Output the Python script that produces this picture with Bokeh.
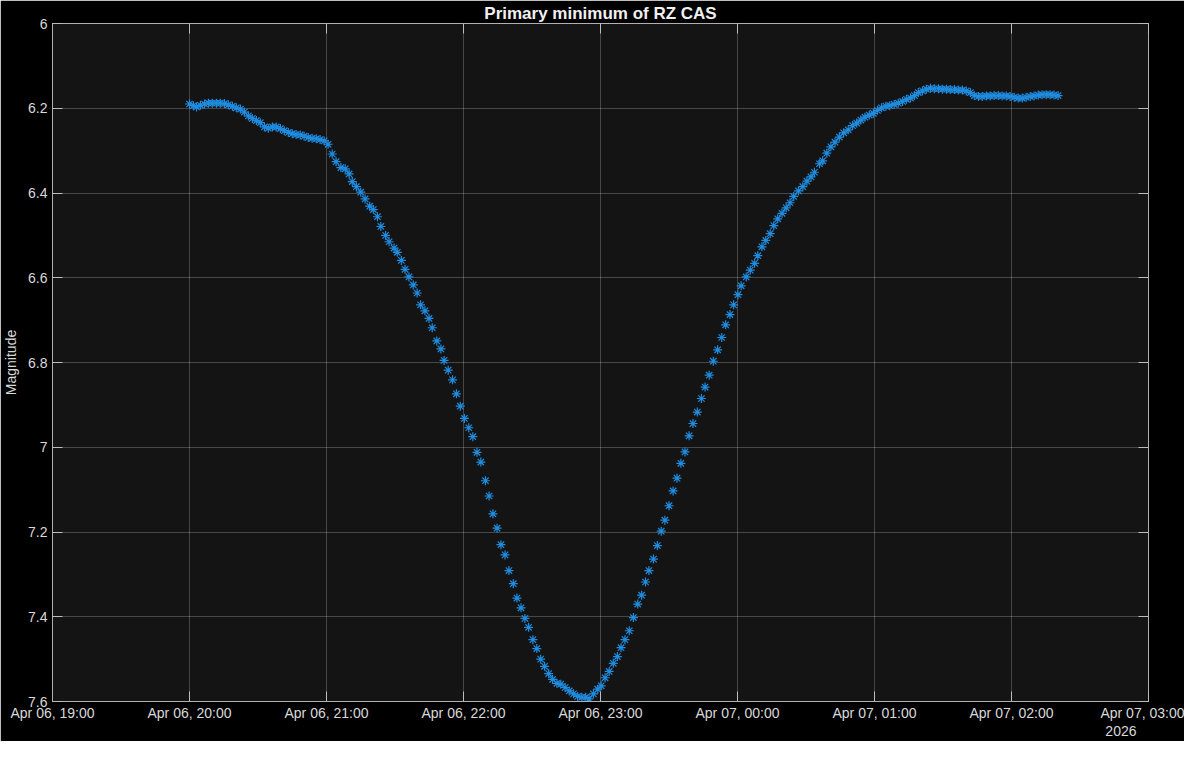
from datetime import datetime, timedelta
from bokeh.plotting import figure
from bokeh.models import (Range1d, FixedTicker, DatetimeTickFormatter, CustomJSTickFormatter,
                          LinearAxis, DatetimeAxis, Title)
from bokeh.embed import file_html
from bokeh.resources import INLINE

TITLE = "Primary minimum of RZ CAS"
Y_LABEL = "Magnitude"
YEAR_LABEL = "2026"
START = datetime(2026, 4, 6, 20, 0)

# minutes after 20:00 (Apr 06)
minutes = [
    0.0, 1.7, 3.1, 4.8, 6.6, 8.3, 10.0, 11.8, 13.5, 15.3,
    17.0, 18.8, 20.5, 22.3, 24.0, 25.8, 27.5, 29.3, 31.0, 32.8,
    34.5, 36.3, 38.0, 39.8, 41.5, 43.3, 45.0, 46.7, 48.5, 50.2,
    52.0, 53.7, 55.5, 57.2, 59.0, 60.7, 62.5, 64.2, 66.3, 68.2,
    69.9, 71.3, 73.1, 75.0, 76.9, 78.9, 80.5, 82.3, 83.8, 85.9,
    87.4, 89.6, 91.0, 92.8, 94.4, 96.1, 98.0, 99.7, 101.2, 103.1,
    104.9, 106.3, 108.3, 110.1, 111.5, 113.3, 115.2, 116.9, 118.6, 120.4,
    122.3, 124.1, 125.9, 127.6, 129.6, 131.2, 132.9, 134.7, 136.4, 138.2,
    139.9, 141.8, 143.4, 145.2, 146.9, 148.5, 150.4, 152.1, 153.8, 155.5,
    157.3, 159.0, 160.9, 162.6, 164.5, 166.3, 168.2, 170.0, 171.8, 173.5,
    175.0, 176.9, 178.8, 180.3, 182.0, 183.8, 185.6, 187.4, 189.0, 190.7,
    192.6, 194.4, 196.3, 198.0, 199.7, 201.2, 203.2, 204.9, 206.6, 208.2,
    210.0, 211.8, 213.5, 215.2, 217.0, 218.8, 220.5, 222.4, 224.2, 225.8,
    227.6, 229.4, 231.3, 233.1, 234.8, 236.7, 238.3, 240.2, 241.6, 243.8,
    245.6, 247.5, 248.9, 250.7, 252.4, 254.3, 255.9, 257.6, 259.5, 261.3,
    263.0, 264.6, 266.7, 268.6, 270.4, 272.2, 273.7, 275.9, 277.3, 279.1,
    280.9, 282.7, 284.6, 286.5, 288.5, 290.4, 292.2, 294.0, 295.8, 297.7,
    299.5, 301.3, 303.1, 305.0, 306.7, 308.6, 310.4, 312.3, 314.0, 315.8,
    317.5, 319.2, 321.0, 322.7, 324.5, 326.2, 328.0, 329.7, 331.5, 333.2,
    335.0, 336.7, 338.5, 340.2, 342.0, 343.7, 345.5, 347.2, 349.0, 350.7,
    352.4, 354.2, 355.9, 357.7, 359.4, 361.2, 362.9, 364.7, 366.4, 368.2,
    369.9, 371.7, 373.4, 375.2, 376.9, 378.6, 380.4,
]

magnitude = [
    6.190, 6.194, 6.197, 6.193, 6.190, 6.188, 6.188, 6.188, 6.188, 6.189,
    6.192, 6.195, 6.199, 6.202, 6.209, 6.218, 6.224, 6.229, 6.234, 6.244,
    6.247, 6.244, 6.244, 6.248, 6.253, 6.257, 6.260, 6.262, 6.263, 6.266,
    6.269, 6.271, 6.272, 6.274, 6.277, 6.285, 6.308, 6.326, 6.340, 6.343,
    6.355, 6.373, 6.385, 6.398, 6.414, 6.431, 6.439, 6.456, 6.479, 6.500,
    6.515, 6.530, 6.540, 6.559, 6.580, 6.598, 6.617, 6.636, 6.664, 6.678,
    6.696, 6.718, 6.749, 6.768, 6.795, 6.818, 6.841, 6.874, 6.903, 6.932,
    6.954, 6.975, 7.012, 7.035, 7.079, 7.115, 7.157, 7.191, 7.230, 7.254,
    7.291, 7.322, 7.356, 7.379, 7.404, 7.425, 7.454, 7.475, 7.500, 7.517,
    7.534, 7.548, 7.557, 7.559, 7.567, 7.575, 7.582, 7.588, 7.590, 7.590,
    7.594, 7.582, 7.571, 7.563, 7.544, 7.529, 7.510, 7.494, 7.473, 7.454,
    7.433, 7.402, 7.370, 7.349, 7.318, 7.291, 7.264, 7.232, 7.198, 7.172,
    7.138, 7.103, 7.073, 7.038, 7.011, 6.973, 6.944, 6.917, 6.885, 6.858,
    6.830, 6.797, 6.770, 6.741, 6.711, 6.687, 6.664, 6.640, 6.619, 6.598,
    6.582, 6.566, 6.548, 6.527, 6.512, 6.496, 6.477, 6.461, 6.448, 6.435,
    6.423, 6.408, 6.395, 6.385, 6.372, 6.362, 6.351, 6.331, 6.324, 6.306,
    6.291, 6.280, 6.268, 6.258, 6.251, 6.241, 6.235, 6.228, 6.221, 6.216,
    6.212, 6.205, 6.199, 6.195, 6.194, 6.191, 6.188, 6.184, 6.179, 6.176,
    6.170, 6.163, 6.159, 6.155, 6.153, 6.154, 6.154, 6.155, 6.155, 6.156,
    6.156, 6.157, 6.157, 6.159, 6.163, 6.170, 6.172, 6.172, 6.171, 6.171,
    6.170, 6.170, 6.171, 6.171, 6.172, 6.174, 6.176, 6.176, 6.174, 6.172,
    6.171, 6.169, 6.168, 6.168, 6.168, 6.169, 6.170,
]

y_ticks = [6.0, 6.2, 6.4, 6.6, 6.8, 7.0, 7.2, 7.4, 7.6]
x_tick_hours = [19, 20, 21, 22, 23, 24, 25, 26, 27]  # hours after Apr 06 00:00

times = [START + timedelta(minutes=m) for m in minutes]
EPOCH = datetime(1970, 1, 1)
x_tick_dts = [datetime(2026, 4, 6) + timedelta(hours=h) for h in x_tick_hours]
x_ticks_ms = [(d - EPOCH).total_seconds() * 1000.0 for d in x_tick_dts]

FONT = "Liberation Sans"
LABEL_COL = "#d9d9d9"
TICK_COL = "#bdbdbd"
FRAME_BG = "#141414"

p = figure(width=1184, height=741, output_backend="svg", toolbar_location=None,
           x_axis_type="datetime",
           x_range=Range1d(x_tick_dts[0], x_tick_dts[-1]),
           y_range=Range1d(7.6, 6.0),
           min_border_left=0, min_border_right=36, min_border_top=0, min_border_bottom=40)

p.background_fill_color = FRAME_BG
p.border_fill_color = "#000000"
p.outline_line_color = "#b0b0b0"
p.outline_line_width = 1

p.title.text = TITLE
p.title.align = "center"
p.title.text_color = "#f0f0f0"
p.title.text_font = FONT
p.title.text_font_size = "17px"
p.title.text_font_style = "bold"
p.title.standoff = 2

p.scatter(times, magnitude, marker="asterisk", size=9, line_color="#1f8ce0",
          line_width=1.2)

xt = FixedTicker(ticks=x_ticks_ms)
yt = FixedTicker(ticks=y_ticks)
fmt = "%b %d, %H:%M"
xfmt = DatetimeTickFormatter(hours=fmt, hourmin=fmt, minutes=fmt, minsec=fmt,
                             days=fmt, seconds=fmt, milliseconds=fmt,
                             microseconds=fmt, months=fmt, years=fmt)
yfmt = CustomJSTickFormatter(code="return (Math.round(tick*10)/10).toString();")

for ax in p.xaxis:
    ax.ticker = xt
    ax.formatter = xfmt
for ax in p.yaxis:
    ax.ticker = yt
    ax.formatter = yfmt
    ax.axis_label = Y_LABEL
    ax.axis_label_standoff = 6
    ax.axis_label_text_font = FONT
    ax.axis_label_text_font_size = "14px"
    ax.axis_label_text_font_style = "normal"
    ax.axis_label_text_color = LABEL_COL

for ax in p.xaxis + p.yaxis:
    ax.axis_line_color = "#b0b0b0"
    ax.major_tick_in = 10
    ax.major_tick_out = 0
    ax.major_tick_line_color = TICK_COL
    ax.minor_tick_line_color = None
    ax.major_label_text_font = FONT
    ax.major_label_text_font_size = "14px"
    ax.major_label_text_color = LABEL_COL
    ax.major_label_standoff = 5
for ax in p.xaxis:
    ax.major_label_standoff = 3

# mirror ticks on top and right (no labels)
top_ax = DatetimeAxis(ticker=xt, formatter=xfmt)
right_ax = LinearAxis(ticker=yt, formatter=yfmt)
for ax in (top_ax, right_ax):
    ax.axis_line_color = None
    ax.major_tick_in = 10
    ax.major_tick_out = 0
    ax.major_tick_line_color = TICK_COL
    ax.minor_tick_line_color = None
    ax.major_label_text_font_size = "0px"
    ax.major_label_text_color = None
    ax.major_label_standoff = 0
p.add_layout(top_ax, "above")
p.add_layout(right_ax, "right")

p.xgrid.ticker = xt
p.ygrid.ticker = yt
p.xgrid.grid_line_color = "#ffffff"
p.ygrid.grid_line_color = "#ffffff"
p.xgrid.grid_line_alpha = 0.22
p.ygrid.grid_line_alpha = 0.22

# year marker under the last tick label
p.add_layout(Title(text=YEAR_LABEL, align="right", offset=12, standoff=0,
                   text_font=FONT, text_font_size="14px", text_font_style="normal",
                   text_color=LABEL_COL), "below")

open("out.html", "w").write(file_html(p, INLINE))
